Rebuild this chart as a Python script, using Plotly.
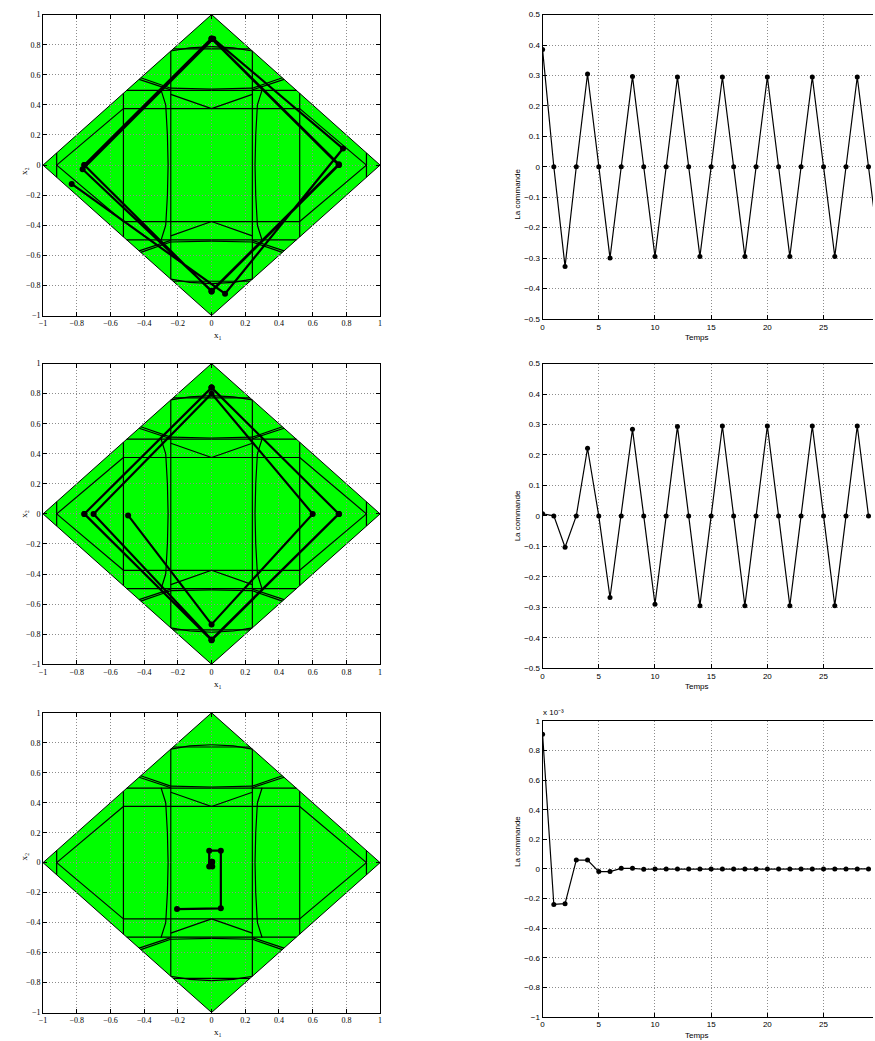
import plotly.graph_objects as go

# ---------------------------------------------------------------- data
# Control sequences u(k) for the three simulations
t1 = list(range(0, 31))
u1 = [0.385, 0, -0.328, 0, 0.305, 0, -0.300, 0, 0.297, 0, -0.295, 0, 0.295, 0,
      -0.295, 0, 0.295, 0, -0.295, 0, 0.295, 0, -0.295, 0, 0.295, 0, -0.295, 0,
      0.295, 0, -0.295]

t2 = list(range(0, 30))
u2 = [0.007, 0, -0.103, 0, 0.222, 0, -0.268, 0, 0.284, 0, -0.290, 0, 0.293, 0,
      -0.295, 0, 0.295, 0, -0.295, 0, 0.295, 0, -0.295, 0, 0.295, 0, -0.295, 0,
      0.295, 0]

t3 = list(range(0, 30))
u3_scale = 1e-3
u3 = [0.91e-3, -0.24e-3, -0.235e-3, 0.06e-3, 0.06e-3, -0.018e-3, -0.018e-3,
      0.004e-3, 0.004e-3, -0.002e-3, -0.001e-3, -0.001e-3] + [0.0] * 18

# State trajectories (x1, x2)
traj1_x1 = [-0.83, 0.08, 0.78, 0.01, -0.765, 0.0, 0.755, 0.0, -0.755, 0.0, 0.755,
            0.0, -0.755, 0.0, 0.755, 0.0]
traj1_x2 = [-0.125, -0.855, 0.11, 0.84, -0.028, -0.835, 0.005, 0.842, 0.0, -0.84,
            0.0, 0.84, 0.0, -0.84, 0.0, 0.84]

traj2_x1 = [-0.495, 0.0, 0.60, 0.0, -0.70, 0.0, 0.755, 0.0, -0.755, 0.0, 0.755,
            0.0, -0.755, 0.0, 0.755, 0.0]
traj2_x2 = [-0.01, -0.735, 0.0, 0.80, 0.0, -0.835, 0.0, 0.84, 0.0, -0.84, 0.0,
            0.84, 0.0, -0.84, 0.0, 0.84]

traj3_x1 = [-0.205, 0.055, 0.055, -0.014, -0.014, 0.004, 0.004, -0.001, -0.001,
            0.0, 0.0]
traj3_x2 = [-0.31, -0.305, 0.08, 0.08, -0.025, -0.025, 0.006, 0.006, -0.002,
            -0.002, 0.0]

# Feasible set (diamond) and the region boundaries of the explicit law,
# given for the first quadrant; the partition is symmetric in both axes.
domain_x1 = [1, 0, -1, 0]
domain_x2 = [0, 1, 0, -1]

partition_q1 = [
    [(0.0, 0.787), (0.13, 0.779), (0.242, 0.758)],
    [(0.0, 0.772), (0.228, 0.772)],
    [(0.242, 0.758), (0.242, 0.0)],
    [(0.30, 0.50), (0.272, 0.40), (0.262, 0.20), (0.258, 0.0)],
    [(0.0, 0.497), (0.503, 0.497)],
    [(0.0, 0.505), (0.242, 0.511)],
    [(0.242, 0.50), (0.43, 0.57)],
    [(0.242, 0.511), (0.42, 0.58)],
    [(0.0, 0.375), (0.242, 0.47)],
    [(0.0, 0.375), (0.523, 0.375)],
    [(0.523, 0.477), (0.523, 0.0)],
    [(0.523, 0.375), (0.919, 0.0)],
    [(0.919, 0.081), (0.919, 0.0)],
]

x_ticks_state = [-1, -0.8, -0.6, -0.4, -0.2, 0, 0.2, 0.4, 0.6, 0.8, 1]
t_ticks = [0, 5, 10, 15, 20, 25]

# ---------------------------------------------------------------- layout
W, H = 875, 1041
SERIF = "Liberation Serif"
SANS = "Liberation Sans"


def xdom(a, b):
    return [a / W, min(b / W, 1.0)]


def ydom(top, bottom):
    return [1 - bottom / H, 1 - top / H]


left_x = xdom(39.3, 378.7)
right_x = xdom(542.3, 875)
rows_left = [ydom(10.7, 314.3), ydom(362.7, 666.0), ydom(715.0, 1017.3)]
rows_right = [ydom(10.7, 317.7), ydom(362.7, 670.0), ydom(723.3, 1021.7)]

# Build the mirrored partition polylines once
part_x, part_y = [], []
for sx, sy in [(1, 1), (-1, 1), (1, -1), (-1, -1)]:
    for seg in partition_q1:
        part_x += [sx * p[0] for p in seg] + [None]
        part_y += [sy * p[1] for p in seg] + [None]

diamond_path = "M " + " L ".join(f"{a},{b}" for a, b in zip(domain_x1, domain_x2)) + " Z"

fig = go.Figure()

grid = dict(showgrid=True, gridcolor="#8c8c8c", griddash="1px,2px", gridwidth=1,
            zeroline=False, showline=True, linecolor="black", linewidth=1,
            ticks="inside", ticklen=4, tickcolor="black")

trajs = [(traj1_x1, traj1_x2), (traj2_x1, traj2_x2), (traj3_x1, traj3_x2)]
series = [(t1, u1, 1.0), (t2, u2, 1.0), (t3, u3, u3_scale)]

layout = dict(width=W, height=H, margin=dict(l=0, r=0, t=0, b=0),
              paper_bgcolor="white", plot_bgcolor="white", showlegend=False)
annotations = []
shapes = []

for i in range(3):
    xa_l = 2 * i + 1
    xa_r = 2 * i + 2
    sfx_l = "" if xa_l == 1 else str(xa_l)
    sfx_r = str(xa_r)

    # phase plane: feasible set filled in green
    shapes.append(dict(type="path", path=diamond_path, xref="x" + sfx_l,
                       yref="y" + sfx_l, fillcolor="#00ff00",
                       line=dict(color="black", width=1), layer="below"))
    fig.add_trace(go.Scatter(x=part_x, y=part_y, mode="lines",
                             line=dict(color="black", width=1.2),
                             xaxis="x" + sfx_l, yaxis="y" + sfx_l, hoverinfo="skip"))
    tx, ty = trajs[i]
    fig.add_trace(go.Scatter(x=tx, y=ty, mode="lines+markers",
                             line=dict(color="black", width=2.2),
                             marker=dict(color="black", size=6),
                             xaxis="x" + sfx_l, yaxis="y" + sfx_l))

    layout["xaxis" + sfx_l] = dict(domain=left_x, anchor="y" + sfx_l, range=[-1, 1],
                                   tickvals=x_ticks_state, mirror="ticks",
                                   tickfont=dict(family=SERIF, size=8, color="black"),
                                   **grid)
    layout["yaxis" + sfx_l] = dict(domain=rows_left[i], anchor="x" + sfx_l, range=[-1, 1],
                                   tickvals=x_ticks_state, mirror="ticks",
                                   tickfont=dict(family=SERIF, size=8, color="black"),
                                   **grid)

    # command signal
    tt, uu, sc = series[i]
    fig.add_trace(go.Scatter(x=tt, y=[v / sc for v in uu], mode="lines+markers",
                             line=dict(color="black", width=1.2),
                             marker=dict(color="black", size=5),
                             xaxis="x" + sfx_r, yaxis="y" + sfx_r))
    yr = [-0.5, 0.5] if i < 2 else [-1, 1]
    dt = 0.1 if i < 2 else 0.2
    layout["xaxis" + sfx_r] = dict(domain=right_x, anchor="y" + sfx_r, range=[0, 29.4],
                                   tickvals=t_ticks, mirror=True,
                                   tickfont=dict(family=SANS, size=8, color="black"),
                                   **grid)
    layout["yaxis" + sfx_r] = dict(domain=rows_right[i], anchor="x" + sfx_r, range=yr,
                                   dtick=dt, tick0=0, mirror=False,
                                   tickfont=dict(family=SANS, size=8, color="black"),
                                   **grid)

    # axis labels
    yl_mid = (rows_left[i][0] + rows_left[i][1]) / 2
    annotations.append(dict(text="x\u2082", x=13 / W, y=yl_mid, xref="paper",
                            yref="paper", showarrow=False, textangle=-90,
                            font=dict(family=SERIF, size=9, color="black")))
    annotations.append(dict(text="x\u2081", x=209 / W,
                            y=rows_left[i][0] - 13 / H, xref="paper", yref="paper",
                            showarrow=False, yanchor="top",
                            font=dict(family=SERIF, size=9, color="black")))
    yr_mid = (rows_right[i][0] + rows_right[i][1]) / 2
    annotations.append(dict(text="La commande", x=517 / W, y=yr_mid, xref="paper",
                            yref="paper", showarrow=False, textangle=-90,
                            font=dict(family=SANS, size=8, color="black")))
    annotations.append(dict(text="Temps", x=(542.3 + 11.32 * 15) / W,
                            y=rows_right[i][0] - 12 / H, xref="paper", yref="paper",
                            showarrow=False, yanchor="top",
                            font=dict(family=SANS, size=8, color="black")))

annotations.append(dict(text="x 10\u207b\u00b3", x=541 / W, y=1 - 721 / H,
                        xref="paper", yref="paper", showarrow=False,
                        xanchor="left", yanchor="bottom",
                        font=dict(family=SANS, size=8, color="black")))

layout["annotations"] = annotations
layout["shapes"] = shapes
fig.update_layout(**layout)
fig.write_html("out.html")
